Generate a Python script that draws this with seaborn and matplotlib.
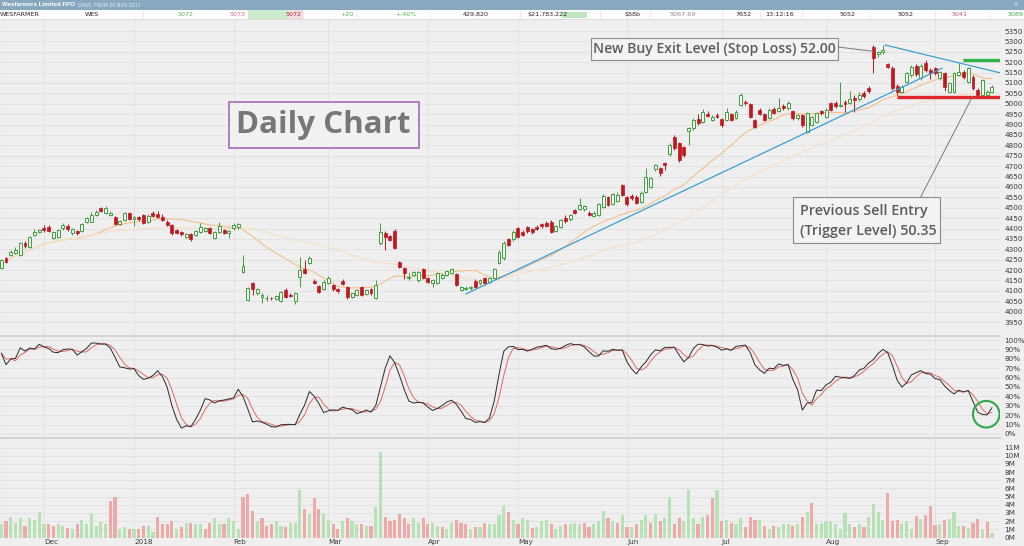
import numpy as np
import pandas as pd
import matplotlib
matplotlib.use("Agg")
import matplotlib.pyplot as plt
import seaborn as sns
from matplotlib.patches import Rectangle, Ellipse, ConnectionPatch


# ---- data (prices in cents, volume in millions) ----
holidays = ["2017-12-25", "2017-12-26", "2018-01-01", "2018-01-26",
            "2018-03-30", "2018-04-02", "2018-04-25", "2018-06-11"]

opens = [
    4210, 4257, 4273, 4281, 4273, 4329, 4312, 4369, 4385, 4404, 4405, 4353, 4361, 4401, 4412, 4380,
    4390, 4390, 4433, 4433, 4465, 4497, 4473, 4465, 4454, 4422, 4441, 4473, 4444, 4454, 4465, 4433,
    4476, 4470, 4457, 4433, 4417, 4393, 4385, 4361, 4374, 4369, 4385, 4390, 4401, 4353, 4385, 4393,
    4380, 4401, 4405, 4192, 4056, 4137, 4088, 4069, 4064, 4068, 4059, 4053, 4104, 4080, 4053, 4168,
    4204, 4233, 4149, 4124, 4108, 4140, 4128, 4108, 4147, 4117, 4069, 4080, 4117, 4085, 4108, 4064,
    4329, 4380, 4364, 4390, 4240, 4209, 4163, 4176, 4152, 4204, 4160, 4140, 4140, 4160, 4176, 4184,
    4181, 4104, 4110, 4112, 4149, 4136, 4160, 4144, 4160, 4233, 4257, 4348, 4348, 4401, 4385, 4406,
    4396, 4409, 4422, 4428, 4433, 4390, 4409, 4449, 4444, 4489, 4492, 4492, 4476, 4460, 4465, 4505,
    4550, 4518, 4534, 4609, 4550, 4556, 4553, 4529, 4577, 4601, 4685, 4690, 4714, 4758, 4839, 4810,
    4790, 4871, 4882, 4925, 4914, 4951, 4922, 4946, 4927, 4922, 4951, 4930, 4994, 5010, 4999, 4922,
    4970, 4951, 4930, 4973, 4967, 4989, 4978, 4967, 4930, 4946, 4866, 4898, 4914, 4965, 4938, 5002,
    5005, 4989, 5010, 5002, 5030, 5021, 5050, 5074, 5275, 5238, 5248, 5190, 5171, 5087, 5058, 5106,
    5138, 5183, 5122, 5195, 5163, 5170, 5122, 5146, 5058, 5058, 5138, 5154, 5106, 5130, 5066, 5042,
    5042, 5058,
]
closes = [
    4248, 4240, 4288, 4297, 4329, 4315, 4361, 4385, 4393, 4393, 4390, 4385, 4393, 4417, 4396, 4396,
    4377, 4422, 4449, 4465, 4481, 4486, 4497, 4473, 4422, 4438, 4473, 4444, 4454, 4444, 4425, 4460,
    4460, 4457, 4441, 4417, 4377, 4380, 4374, 4374, 4348, 4390, 4409, 4401, 4377, 4385, 4412, 4380,
    4390, 4417, 4420, 4220, 4112, 4108, 4108, 4080, 4068, 4064, 4075, 4096, 4069, 4075, 4088, 4200,
    4188, 4260, 4140, 4096, 4144, 4160, 4108, 4098, 4133, 4069, 4088, 4104, 4080, 4104, 4088, 4128,
    4385, 4357, 4345, 4305, 4214, 4184, 4168, 4192, 4192, 4160, 4144, 4152, 4184, 4176, 4196, 4204,
    4128, 4117, 4116, 4118, 4117, 4152, 4136, 4160, 4204, 4288, 4329, 4321, 4385, 4361, 4369, 4388,
    4382, 4398, 4410, 4414, 4385, 4412, 4441, 4438, 4465, 4476, 4513, 4508, 4466, 4476, 4518, 4556,
    4513, 4566, 4561, 4561, 4518, 4545, 4524, 4572, 4649, 4641, 4705, 4666, 4706, 4802, 4786, 4730,
    4754, 4882, 4922, 4906, 4962, 4943, 4938, 4938, 4898, 4962, 4922, 4962, 5042, 5002, 4938, 4890,
    4951, 4922, 4970, 4957, 4978, 4978, 5005, 4930, 4946, 4898, 4957, 4935, 4954, 4954, 4970, 4970,
    4990, 4995, 4999, 5022, 5018, 5042, 5036, 5060, 5220, 5248, 5259, 5178, 5075, 5058, 5082, 5146,
    5178, 5142, 5183, 5163, 5148, 5146, 5154, 5082, 5098, 5146, 5154, 5130, 5170, 5074, 5042, 5114,
    5058, 5080,
]
highs = [
    4255, 4262, 4295, 4310, 4335, 4340, 4365, 4400, 4400, 4415, 4418, 4390, 4398, 4425, 4420, 4402,
    4395, 4428, 4455, 4478, 4488, 4502, 4508, 4482, 4460, 4442, 4478, 4480, 4460, 4458, 4470, 4468,
    4485, 4482, 4470, 4440, 4422, 4398, 4390, 4380, 4380, 4395, 4425, 4408, 4408, 4390, 4433, 4398,
    4395, 4425, 4428, 4273, 4118, 4145, 4112, 4088, 4080, 4072, 4080, 4100, 4112, 4088, 4095, 4264,
    4249, 4268, 4155, 4130, 4150, 4170, 4135, 4112, 4158, 4122, 4092, 4110, 4122, 4110, 4115, 4150,
    4428, 4388, 4370, 4398, 4245, 4215, 4190, 4198, 4198, 4210, 4168, 4158, 4190, 4185, 4202, 4212,
    4188, 4122, 4122, 4125, 4155, 4158, 4165, 4166, 4210, 4295, 4341, 4355, 4392, 4408, 4392, 4412,
    4402, 4415, 4428, 4434, 4440, 4418, 4448, 4465, 4472, 4496, 4545, 4515, 4482, 4482, 4525, 4565,
    4558, 4572, 4575, 4615, 4558, 4565, 4560, 4580, 4690, 4650, 4712, 4698, 4720, 4810, 4848, 4815,
    4796, 4890, 4930, 4950, 4975, 4965, 4945, 4955, 4932, 4980, 4958, 4970, 5050, 5020, 5005, 4928,
    4978, 4958, 4978, 4985, 5026, 4998, 5012, 4972, 4952, 4950, 4962, 4942, 4960, 4972, 4978, 5010,
    5012, 5106, 5018, 5060, 5040, 5055, 5060, 5085, 5285, 5255, 5285, 5198, 5180, 5095, 5090, 5152,
    5185, 5190, 5190, 5210, 5170, 5178, 5160, 5152, 5105, 5152, 5195, 5162, 5178, 5140, 5075, 5120,
    5065, 5090,
]
lows = [
    4205, 4235, 4268, 4278, 4270, 4308, 4308, 4365, 4378, 4385, 4382, 4348, 4355, 4395, 4390, 4370,
    4370, 4385, 4428, 4430, 4460, 4480, 4468, 4460, 4418, 4415, 4436, 4440, 4410, 4438, 4420, 4428,
    4455, 4450, 4435, 4410, 4370, 4372, 4365, 4355, 4340, 4365, 4380, 4385, 4372, 4348, 4380, 4375,
    4355, 4395, 4400, 4188, 4050, 4080, 4082, 4040, 4050, 4058, 4055, 4048, 4065, 4070, 4037, 4120,
    4182, 4228, 4135, 4090, 4102, 4135, 4100, 4090, 4128, 4062, 4064, 4075, 4075, 4080, 4082, 4060,
    4320, 4297, 4338, 4300, 4208, 4157, 4150, 4170, 4145, 4155, 4138, 4120, 4135, 4155, 4170, 4180,
    4122, 4098, 4104, 4106, 4112, 4130, 4130, 4138, 4155, 4228, 4250, 4315, 4342, 4355, 4362, 4380,
    4375, 4392, 4404, 4408, 4378, 4385, 4404, 4428, 4438, 4470, 4488, 4486, 4460, 4455, 4460, 4500,
    4508, 4512, 4528, 4555, 4510, 4538, 4518, 4522, 4570, 4595, 4678, 4655, 4680, 4750, 4780, 4722,
    4745, 4802, 4875, 4900, 4908, 4935, 4915, 4930, 4890, 4915, 4915, 4925, 4988, 4995, 4932, 4882,
    4945, 4915, 4925, 4950, 4960, 4972, 4972, 4924, 4922, 4890, 4860, 4892, 4908, 4948, 4932, 4965,
    4982, 4985, 4962, 4998, 4962, 5015, 5028, 5052, 5150, 5225, 5240, 5170, 5068, 5040, 5050, 5100,
    5130, 5135, 5115, 5155, 5120, 5138, 5115, 5060, 5052, 5052, 5132, 5120, 5100, 5065, 5035, 5035,
    5036, 5052,
]
volumes_m = [
    1.6, 2.0, 2.5, 1.8, 2.4, 1.4, 2.4, 2.2, 3.1, 1.6, 1.6, 1.4, 1.7, 1.4, 1.2, 1.1,
    1.6, 2.2, 1.7, 2.9, 1.4, 1.9, 1.6, 4.5, 5.0, 1.1, 1.3, 1.1, 1.0, 1.1, 1.4, 1.4,
    0.7, 2.5, 1.6, 1.6, 2.0, 1.1, 1.3, 1.8, 1.8, 1.6, 1.6, 1.1, 1.8, 2.4, 1.6, 1.7,
    2.4, 2.0, 1.0, 5.0, 5.3, 3.3, 2.0, 2.4, 1.4, 1.7, 2.0, 1.4, 1.3, 1.8, 1.8, 5.8,
    3.5, 2.9, 4.8, 3.5, 2.9, 2.2, 1.6, 1.1, 2.0, 2.4, 2.0, 1.6, 1.7, 1.4, 1.4, 3.7,
    10.4, 2.5, 2.0, 2.2, 2.9, 2.4, 1.6, 2.4, 1.8, 2.4, 1.6, 1.8, 1.4, 1.3, 1.1, 1.8,
    2.1, 1.8, 1.6, 1.1, 1.3, 1.3, 1.8, 1.6, 1.7, 2.7, 3.8, 3.1,
    2.2, 1.6, 2.4, 2.1, 1.2, 1.3, 2.0, 2.2, 1.6, 1.1, 1.4, 1.6, 1.6, 1.8, 1.6, 1.8,
    1.3, 1.6, 2.0, 3.2, 2.4, 2.0, 1.8, 2.8, 1.3, 1.3, 1.7, 2.2, 2.7, 1.8, 2.9, 2.0,
    2.4, 5.0, 1.7, 2.4, 2.0, 5.8, 2.4, 1.7, 2.5, 2.7, 4.8, 5.8, 2.0, 2.1, 1.8, 1.7,
    2.4, 1.3, 2.5, 2.2, 2.2, 1.4, 1.1, 1.4, 1.3, 1.7, 1.6, 1.4, 1.6, 2.5, 3.1, 4.2,
    1.6, 1.8,
    2.0, 1.9, 1.7, 1.1, 3.0, 1.6, 1.3, 1.7, 1.3, 2.5, 4.1, 3.1, 2.2, 5.4, 2.0, 2.2,
    1.6, 2.0, 1.1, 2.6, 2.3, 2.7, 3.8, 1.5, 1.6, 2.1, 2.3, 3.1, 1.4, 1.4, 1.2, 1.8,
    2.3, 1.0, 1.9, 0.5,
]

# hand drawn annotations (trading-day index, price)
uptrend_idx = [98.0, 198.5]
uptrend_price = [4085, 5171]
downtrend_idx = [186.4, 210.7]
downtrend_price = [5283, 5149]
stop_level = 5210
trigger_level = 5035

price_ticks = list(range(3950, 5351, 50))
stoch_ticks = list(range(0, 101, 10))
vol_ticks = list(range(0, 12))

quote_texts = ["WESFARMER", "WES", "5072", "5073", "5072", "+20", "+.40%", "429,820",
               "$21,783,222", "$58b", "5067.69", "7652", "13:12:16", "5052", "5052", "5041", "5089"]

# ---- frame ----
df = pd.DataFrame({"open": opens, "high": highs, "low": lows, "close": closes, "vol": volumes_m})
n = len(df)
df["date"] = pd.bdate_range("2017-11-20", periods=n, freq="C", holidays=holidays)
df["i"] = np.arange(n)
df["ma21"] = df["close"].rolling(21, min_periods=1).mean()
df["ma50"] = df["close"].rolling(50, min_periods=1).mean()
lo_n = df["low"].rolling(21, min_periods=1).min()
hi_n = df["high"].rolling(21, min_periods=1).max()
fast_k = 100 * (df["close"] - lo_n) / (hi_n - lo_n)
df["k"] = fast_k.rolling(3, min_periods=1).mean()
df["d"] = df["k"].rolling(3, min_periods=1).mean()

new_month = df["date"].dt.month != df["date"].shift().dt.month
new_month.iloc[0] = False
month_pos = df.loc[new_month, "i"].tolist()
month_lab = ["2018" if d.month == 1 else d.strftime("%b") for d in df.loc[new_month, "date"]]

sns.set_theme(style="whitegrid")
plt.rcParams["font.family"] = ["DejaVu Sans"]

BG = "#efeff0"
GRID = "#e0e0e2"
GREEN = "#3e9e3e"
RED = "#c01820"

W, H = 1024, 546
fig = plt.figure(figsize=(W / 100, H / 100), dpi=100)
fig.patch.set_facecolor(BG)


def px_axes(l, t, r, b):
    return fig.add_axes([l / W, 1 - b / H, (r - l) / W, (b - t) / H])


XL = (-0.27, 210.7)


def style(ax, yt, ylab):
    ax.set_facecolor(BG)
    ax.set_xlim(*XL)
    ax.set_xticks(month_pos)
    ax.set_yticks(yt)
    ax.set_yticklabels(ylab)
    ax.yaxis.tick_right()
    ax.tick_params(axis="y", length=0, pad=3, labelsize=5.2, labelcolor="#3a3a3a")
    ax.tick_params(axis="x", length=0)
    ax.grid(True, color=GRID, lw=0.6)
    ax.set_xlabel("")
    ax.set_ylabel("")
    for s in ax.spines.values():
        s.set_visible(False)


# ---- price panel ----
ax = px_axes(0, 20, 1000, 336)
style(ax, price_ticks, [str(t) for t in price_ticks])
ax.set_ylim(3883, 5403)
ax.set_xticklabels([])

up = df["close"] >= df["open"]
body_lo = df[["open", "close"]].min(axis=1)
body_h = (df["close"] - df["open"]).abs().clip(lower=3)
ax.vlines(df["i"], df["low"], df["high"], colors=np.where(up, GREEN, RED), lw=0.7, zorder=3)
ax.bar(df["i"][up], body_h[up], bottom=body_lo[up], width=0.62, facecolor="#f6fbf6",
       edgecolor=GREEN, lw=0.7, zorder=4)
ax.bar(df["i"][~up], body_h[~up], bottom=body_lo[~up], width=0.62, facecolor=RED,
       edgecolor=RED, lw=0.5, zorder=4)
sns.lineplot(x=df["i"], y=df["ma21"], ax=ax, color="#f3c189", lw=0.8, zorder=2)
sns.lineplot(x=df["i"], y=df["ma50"], ax=ax, color="#f7e0c2", lw=0.8, zorder=2)
ax.plot(uptrend_idx, uptrend_price, color="#3a9fd6", lw=0.9, zorder=5)
ax.plot(downtrend_idx, downtrend_price, color="#3a9fd6", lw=0.9, zorder=5)
ax.hlines(stop_level, 202.9, 211, color="#2db34a", lw=2.4, zorder=6)
ax.hlines(trigger_level, 188.9, 211, color="#e0262b", lw=2.4, zorder=6)
ax.set_xlim(*XL)
ax.set_xlabel("")
ax.set_ylabel("")
ax.spines["bottom"].set_visible(True)
ax.spines["bottom"].set_color("#cfcfd2")

# ---- stochastic panel ----
ax2 = px_axes(0, 337, 1000, 438)
style(ax2, stoch_ticks, [f"{t}%" for t in stoch_ticks])
ax2.set_ylim(-4.3, 103.2)
ax2.set_xticklabels([])
sns.lineplot(x=df["i"], y=df["d"], ax=ax2, color="#e06a62", lw=0.7)
sns.lineplot(x=df["i"], y=df["k"], ax=ax2, color="#2a2a2a", lw=0.7)
ax2.add_patch(Ellipse((207.8, 21), 5.6, 28.3, fill=False, edgecolor="#2fa84a", lw=1.5, zorder=6))
ax2.set_xlim(*XL)
ax2.set_xlabel("")
ax2.set_ylabel("")
ax2.spines["bottom"].set_visible(True)
ax2.spines["bottom"].set_color("#cfcfd2")

# ---- volume panel ----
ax3 = px_axes(0, 439, 1000, 537.5)
style(ax3, vol_ticks, [f"{t}M" for t in vol_ticks])
ax3.set_ylim(0, 12.04)
vcol = np.where(df["close"].diff().fillna(1) >= 0, "#b6e2b6", "#f0a9a9")
ax3.bar(df["i"], df["vol"], width=0.66, color=vcol, lw=0, zorder=3)
ax3.set_xticklabels(month_lab)
ax3.tick_params(axis="x", labelsize=5.2, labelcolor="#3a3a3a", pad=1)
for t in ax3.get_xticklabels():
    t.set_ha("left")

# ---- header (pixel coordinates) ----
hd = px_axes(0, 0, W, 20)
hd.set_xlim(0, W)
hd.set_ylim(20, 0)
hd.axis("off")
hd.add_patch(Rectangle((0, 0), W, 9.5, color="#87a8bf", lw=0))
hd.add_patch(Rectangle((0, 9.5), W, 10, color="white", lw=0))
hd.add_patch(Rectangle((248, 9.8), 40, 9.4, color="#cdeccd", lw=0))
hd.add_patch(Rectangle((288, 9.8), 15, 9.4, color="#f6dede", lw=0))
hd.add_patch(Rectangle((562, 11.5), 25, 6, color="#bfe6bf", lw=0))
for sx in [143, 248, 303, 357, 430, 520, 600, 650, 722, 760, 802, 870, 935, 990]:
    hd.vlines(sx, 9.8, 19.2, color="#e4e4e4", lw=0.5)
hd.hlines(19.3, 0, W, color="#d6d6d6", lw=0.6)
hd.text(2, 5, "Wesfarmers Limited FPO", color="white", fontsize=4.4, fontweight="bold",
        va="center", family=["Liberation Sans", "DejaVu Sans"])
hd.text(78, 5.3, "DAILY, FROM 20 NOV 2017", color="#e6eef4", fontsize=3.4, va="center")
hd.text(1016, 4.8, "X", color="#dde7ee", fontsize=4.5, va="center", ha="center")
qx = [0, 85, 177, 230, 285, 340, 395, 463, 527, 624, 669, 735, 765, 840, 897, 952, 1007]
qc = ["#222", "#222", "#59b35b", "#d36a7a", "#a03242", "#59b35b", "#59b35b", "#222",
      "#222", "#222", "#8a8a8a", "#222", "#222", "#222", "#222", "#d2556a", "#49a84b"]
for x0, s, c0 in zip(qx, quote_texts, qc):
    hd.text(x0, 14.6, s, color=c0, fontsize=4.6, va="center", ha="left")

# ---- overlay annotations (pixel coordinates) ----
ov = px_axes(0, 0, W, H)
ov.set_xlim(0, W)
ov.set_ylim(H, 0)
ov.axis("off")
ov.set_zorder(10)
ann_font = dict(family=["Open Sans", "DejaVu Sans"], fontweight="semibold", color="#5c5c5c")
ov.add_patch(Rectangle((591, 38), 247, 22, facecolor="#f3f3f3", edgecolor="#8a8a8a", lw=0.8))
ov.text(714.5, 49.5, "New Buy Exit Level (Stop Loss) 52.00", fontsize=10.1, ha="center", va="center", **ann_font)
ov.add_patch(Rectangle((229, 102), 190, 46, facecolor="#f1f1f2", edgecolor="#a868ba", lw=1.2))
ov.text(323, 125, "Daily Chart", fontsize=22.5, ha="center", va="center",
        family=["Open Sans", "DejaVu Sans"], fontweight="bold", color="#777777")
ov.add_patch(Rectangle((793, 197), 147, 46, facecolor="#f3f3f3", edgecolor="#8a8a8a", lw=0.8))
ov.text(800, 211, "Previous Sell Entry", fontsize=10.3, ha="left", va="center", **ann_font)
ov.text(800, 231, "(Trigger Level) 50.35", fontsize=10.3, ha="left", va="center", **ann_font)

fig.add_artist(ConnectionPatch(xyA=(838, 47), coordsA=ov.transData, xyB=(184.1, 5252),
                               coordsB=ax.transData, color="#7a7a7a", lw=0.7, zorder=12))
fig.add_artist(ConnectionPatch(xyA=(920.7, 197), coordsA=ov.transData, xyB=(204.9, trigger_level),
                               coordsB=ax.transData, color="#7a7a7a", lw=0.7, zorder=12))

fig.savefig("out.png", dpi=100, facecolor=BG)
